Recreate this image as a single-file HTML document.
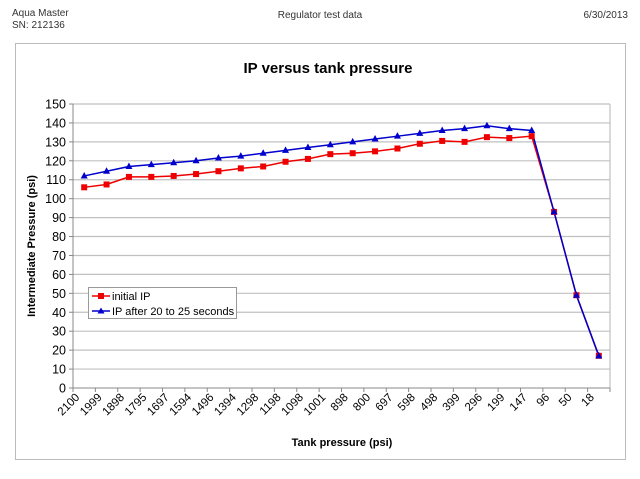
<!DOCTYPE html>
<html><head><meta charset="utf-8"><style>
body{margin:0;background:#fff;}
svg{display:block;font-family:"Liberation Sans",Arial,sans-serif;}
</style></head><body>
<svg width="640" height="479" viewBox="0 0 640 479">
<text x="12" y="16" font-size="10" fill="#333">Aqua Master</text>
<text x="12" y="28" font-size="10" fill="#333">SN: 212136</text>
<text x="320" y="18" font-size="10" fill="#333" text-anchor="middle">Regulator test data</text>
<text x="628" y="18" font-size="10" fill="#333" text-anchor="end">6/30/2013</text>
<rect x="15.5" y="43.5" width="610" height="416" fill="none" stroke="#bbb"/>
<text x="328" y="73" font-size="15" font-weight="bold" text-anchor="middle">IP versus tank pressure</text>
<g id="grid"></g><g id="axes"></g><g id="series"></g>
<text x="342" y="446" font-size="11" font-weight="bold" text-anchor="middle">Tank pressure (psi)</text>
<text transform="translate(35,246) rotate(-90)" font-size="11" font-weight="bold" text-anchor="middle">Intermediate Pressure (psi)</text>
<g>
<rect x="88.5" y="287.5" width="148" height="31" fill="#fff" stroke="#999"/>
<g><line x1="92" y1="296" x2="110" y2="296" stroke="#e00" stroke-width="1.5"/><rect x="98" y="293" width="6" height="6" fill="#e00"/><text x="112" y="300" font-size="11">initial IP</text></g>
<g><line x1="92" y1="311" x2="110" y2="311" stroke="#00c" stroke-width="1.5"/><path d="M101,307.5 L104.5,313.5 L97.5,313.5Z" fill="#00c"/><text x="112" y="315" font-size="11">IP after 20 to 25 seconds</text></g>
</g>
</svg>
<script>
const categories=["2100","1999","1898","1795","1697","1594","1496","1394","1298","1198","1098","1001","898","800","697","598","498","399","296","199","147","96","50","18"];
const initialIP=[106,107.5,111.5,111.5,112,113,114.5,116,117,119.5,121,123.5,124,125,126.5,129,130.5,130,132.5,132,133,93,49,17];
const ipAfter=[112,114.5,117,118,119,120,121.5,122.5,124,125.5,127,128.5,130,131.5,133,134.5,136,137,138.5,137,136,93,49,17];
const yTicks=[0,10,20,30,40,50,60,70,80,90,100,110,120,130,140,150];
const NS="http://www.w3.org/2000/svg";
const L=73,R=610,T=104,B=388,yMax=150;
const cw=(R-L)/categories.length;
const xs=i=>L+cw*(i+0.5);
const ys=v=>B-(v/yMax)*(B-T);
function mk(tag,attrs,parent){const e=document.createElementNS(NS,tag);for(const k in attrs)e.setAttribute(k,attrs[k]);parent.appendChild(e);return e;}
const grid=document.getElementById('grid'),axes=document.getElementById('axes'),series=document.getElementById('series');
yTicks.forEach(v=>{
  const y=ys(v);
  if(v>0){const g=mk('line',{x1:L,x2:R,y1:y,y2:y,stroke:'#c0c0c0','stroke-width':1.2},grid);
  
  }
  mk('line',{x1:L-4,x2:L,y1:y,y2:y,stroke:'#888'},axes);
  const t=mk('text',{x:L-7,y:y+4.5,'font-size':12.5,'text-anchor':'end'},axes);
  t.textContent=v;
  
  
});
mk('line',{x1:R,x2:R,y1:T,y2:B,stroke:'#c0c0c0','stroke-width':1.2},grid);
mk('line',{x1:L,x2:L,y1:T,y2:B,stroke:'#888'},axes);
mk('line',{x1:L,x2:R,y1:B,y2:B,stroke:'#888'},axes);
for(let i=0;i<=categories.length;i++){mk('line',{x1:L+cw*i,x2:L+cw*i,y1:B,y2:B+4,stroke:'#888'},axes);}
categories.forEach((c,i)=>{
  const x=xs(i)-4,y=B+10;
  const t=mk('text',{x:x,y:y,'font-size':11.5,'text-anchor':'end',transform:`rotate(-45 ${x} ${y})`},axes);
  t.textContent=c;
  
  
});
function drawLine(vals,color,name){
  const p=mk('polyline',{points:vals.map((v,i)=>xs(i)+','+ys(v)).join(' '),fill:'none',stroke:color,'stroke-width':1.5},series);
  
  
}
drawLine(initialIP,'#e00','initial-ip');
drawLine(ipAfter,'#00c','ip-after');
initialIP.forEach((v,i)=>{
  const r=mk('rect',{x:xs(i)-3,y:ys(v)-3,width:6,height:6,fill:'#e00'},series);
  
  
});
ipAfter.forEach((v,i)=>{
  const x=xs(i),y=ys(v);
  const p=mk('path',{d:`M${x},${y-4} L${x+3.5},${y+2.5} L${x-3.5},${y+2.5}Z`,fill:'#00c'},series);
  
  
});
</script>
</body></html>
